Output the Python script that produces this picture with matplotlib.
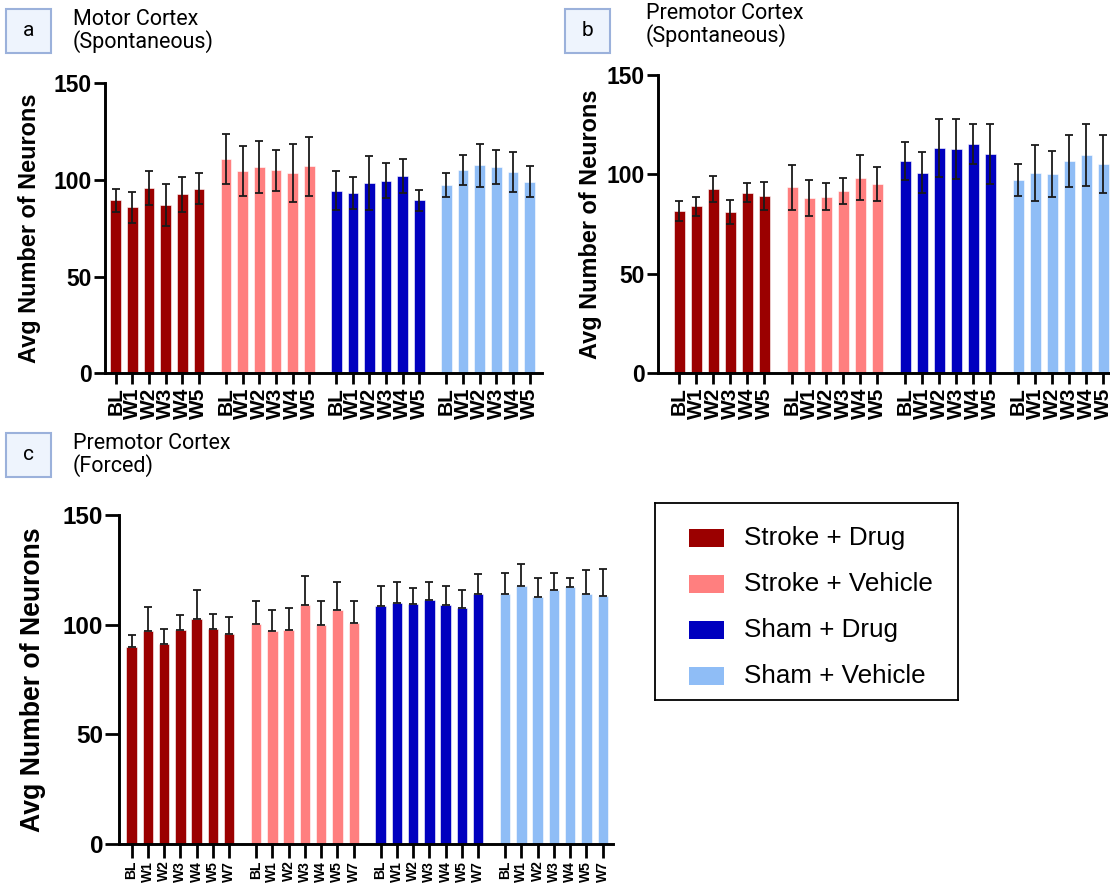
import matplotlib
matplotlib.use("Agg")
import matplotlib.pyplot as plt
from matplotlib.patches import Rectangle
import numpy as np

plt.rcParams['font.family'] = ['Liberation Sans', 'DejaVu Sans']

groups = ["Stroke + Drug", "Stroke + Vehicle", "Sham + Drug", "Sham + Vehicle"]
colors = ["#9b0000", "#ff7f7f", "#0000bf", "#8fbdf6"]

weeks_ab = ["BL", "W1", "W2", "W3", "W4", "W5"]
weeks_c = ["BL", "W1", "W2", "W3", "W4", "W5", "W7"]

# panel a - motor cortex, spontaneous
a_stroke_drug = [89.5, 86, 96, 87, 92.6, 95.5]
a_stroke_veh = [111, 104.6, 106.8, 105, 103.8, 107]
a_sham_drug = [94.5, 93.2, 98.6, 99.7, 101.9, 89.4]
a_sham_veh = [97.4, 105, 107.5, 106.7, 104, 99]
a_err_stroke_drug = [6, 8, 8.7, 11, 9, 8]
a_err_stroke_veh = [13, 13, 13.5, 10.7, 15, 15.3]
a_err_sham_drug = [10.2, 8.4, 14, 9.2, 8.7, 5.4]
a_err_sham_veh = [6, 7.7, 11, 8.8, 10.4, 8]

# panel b - premotor cortex, spontaneous
b_stroke_drug = [81.6, 84, 92.7, 81.1, 90.8, 89.3]
b_stroke_veh = [93.5, 88.2, 88.8, 91.7, 98.4, 95]
b_sham_drug = [106.6, 100.9, 113.3, 112.8, 115.3, 110.3]
b_sham_veh = [97, 100.6, 100.4, 106.8, 109.9, 105.3]
b_err_stroke_drug = [5, 4.9, 6.7, 6, 4.8, 7.1]
b_err_stroke_veh = [11.2, 9, 6.7, 6.6, 11.2, 8.6]
b_err_sham_drug = [9.5, 10.3, 14.7, 15.2, 9.9, 15]
b_err_sham_veh = [8, 14, 11.6, 13, 15.5, 14.4]

# panel c - premotor cortex, forced (upper error only)
c_stroke_drug = [89.9, 97, 91.4, 97.6, 102.6, 97.9, 95.9]
c_stroke_veh = [100.2, 97.3, 97.6, 108.9, 99.7, 106.6, 100.7]
c_sham_drug = [108.5, 110.1, 109.2, 111.1, 108.9, 107.8, 114.2]
c_sham_veh = [114.1, 117.5, 112.5, 115.8, 117, 114.1, 113.1]
c_err_stroke_drug = [5.3, 11.1, 6.7, 6.8, 13.2, 7.1, 7.6]
c_err_stroke_veh = [10.5, 9.4, 9.9, 13.3, 11, 13, 10.3]
c_err_sham_drug = [9.3, 9.4, 7.7, 8.5, 8.8, 7.9, 8.9]
c_err_sham_veh = [9.5, 10, 8.8, 7.9, 4.4, 10.8, 12.1]

W, H = 1110, 894
fig = plt.figure(figsize=(W / 100, H / 100), dpi=100)


def px_axes(left, right, top, bottom):
    return fig.add_axes([left / W, 1 - bottom / H, (right - left) / W, (bottom - top) / H])


def draw_panel(ax, means, errs, labels, gap, xlim, upper_only, ylab_x,
               tick_fs, ytick_fs, ylab_fs, tick_len):
    n = len(labels)
    ticks, ticklabels = [], []
    for g, (m, e, col) in enumerate(zip(means, errs, colors)):
        x = g * (n + gap) + np.arange(n)
        yerr = [np.zeros(n), e] if upper_only else e
        ax.bar(x, m, width=0.64, color=col, edgecolor='white', linewidth=0.4, zorder=2)
        ax.errorbar(x, m, yerr=yerr, fmt='none', ecolor='#1a1a1a', elinewidth=1.3,
                    capsize=2.7, capthick=1.3, zorder=3)
        ticks.extend(x)
        ticklabels.extend(labels)
    ax.set_xticks(ticks)
    ax.set_xticklabels(ticklabels, rotation=90, fontsize=tick_fs, fontweight='bold')
    ax.set_xlim(*xlim)
    ax.set_ylim(0, 150)
    ax.set_yticks([0, 50, 100, 150])
    ax.tick_params(axis='y', labelsize=ytick_fs, width=2, length=tick_len, pad=1.5)
    ax.tick_params(axis='x', width=2, length=tick_len, pad=2)
    for lab in ax.get_yticklabels():
        lab.set_fontweight('bold')
    for s in ['top', 'right']:
        ax.spines[s].set_visible(False)
    for s in ['left', 'bottom']:
        ax.spines[s].set_linewidth(2.1)
    ax.set_ylabel("Avg Number of Neurons", fontsize=ylab_fs, fontweight='bold', va='center')
    ax.yaxis.set_label_coords(ylab_x, 0.5)


ax_a = px_axes(104.7, 541.7, 83.3, 373.3)
draw_panel(ax_a, [a_stroke_drug, a_stroke_veh, a_sham_drug, a_sham_veh],
           [a_err_stroke_drug, a_err_stroke_veh, a_err_sham_drug, a_err_sham_veh],
           weeks_ab, 0.62, (-0.66, 25.58), False, (30 - 104.7) / 437,
           15, 16.5, 16.9, 8)

ax_b = px_axes(658.3, 1115, 75, 373.3)
draw_panel(ax_b, [b_stroke_drug, b_stroke_veh, b_sham_drug, b_sham_veh],
           [b_err_stroke_drug, b_err_stroke_veh, b_err_sham_drug, b_err_sham_veh],
           weeks_ab, 0.65, (-1.24, 25.65), False, (591 - 658.3) / 456.7,
           15, 16.5, 16.9, 8)

ax_c = px_axes(119, 613, 515, 844)
draw_panel(ax_c, [c_stroke_drug, c_stroke_veh, c_sham_drug, c_sham_veh],
           [c_err_stroke_drug, c_err_stroke_veh, c_err_sham_drug, c_err_sham_veh],
           weeks_c, 0.65, (-0.77, 29.58), True, (33 - 119) / 494,
           10, 17.5, 19.2, 10)

# panel letters and titles
panels = [("a", 6, 9, "Motor Cortex\n(Spontaneous)", 73, 9),
          ("b", 565, 9, "Premotor Cortex\n(Spontaneous)", 646, 3),
          ("c", 6, 433, "Premotor Cortex\n(Forced)", 73, 433)]
for letter, bx, by, title, tx, ty in panels:
    fig.patches.append(Rectangle((bx / W, 1 - (by + 44) / H), 45 / W, 44 / H,
                                 transform=fig.transFigure, facecolor='#eef4fd',
                                 edgecolor='#9bb1db', linewidth=1.5))
    fig.text((bx + 22.5) / W, 1 - (by + 22) / H, letter, fontsize=15,
             ha='center', va='center', family=['Roboto', 'DejaVu Sans'])
    fig.text(tx / W, 1 - ty / H, title, fontsize=15.5, ha='left', va='top',
             linespacing=1.0, family=['Roboto', 'DejaVu Sans'])

# legend box
leg = px_axes(655, 958, 503, 700)
leg.set_xlim(655, 958)
leg.set_ylim(700, 503)
leg.set_xticks([])
leg.set_yticks([])
for s in leg.spines.values():
    s.set_linewidth(1.3)
for k, (name, col) in enumerate(zip(groups, colors)):
    yc = 538 + 46 * k
    leg.add_patch(Rectangle((689, yc - 9), 35, 18, facecolor=col, edgecolor='none'))
    leg.text(744, yc, name, fontsize=18.7, va='center', ha='left')

fig.savefig("out.png", dpi=100)
